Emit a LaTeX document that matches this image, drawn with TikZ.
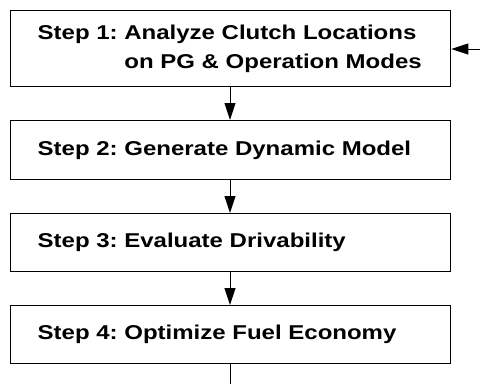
\documentclass[tikz,border=0pt]{standalone}
\usepackage{fontspec}
\setmainfont[FakeStretch=1.2]{Liberation Sans}
\usetikzlibrary{arrows.meta}
\begin{document}
\frenchspacing
\begin{tikzpicture}[x=1pt,y=-1pt,
  stepbox/.style={draw, line width=1.4pt, minimum width=440pt, inner xsep=27pt, text width=386pt, align=left, font=\bfseries\fontsize{20}{29.5}\selectfont, anchor=north west},
  conn/.style={line width=1pt, -{Triangle[length=17pt,width=11pt]}}]
\useasboundingbox (0,0) rectangle (480,384);
\node[stepbox, minimum height=76pt] (s1) at (10,10) {Step 1: Analyze Clutch Locations\\\phantom{Step 1:} on PG \& Operation Modes};
\node[stepbox, minimum height=59pt] (s2) at (10,120) {Step 2: Generate Dynamic Model};
\node[stepbox, minimum height=58pt] (s3) at (10,213) {Step 3: Evaluate Drivability};
\node[stepbox, minimum height=58pt] (s4) at (10,305) {Step 4: Optimize Fuel Economy};
\coordinate (in) at (480,49);
\coordinate (out) at (230,384);
\draw[conn] (s1.south -| 230,0) -- (s2.north -| 230,0);
\draw[conn] (s2.south -| 230,0) -- (s3.north -| 230,0);
\draw[conn] (s3.south -| 230,0) -- (s4.north -| 230,0);
\draw[line width=1pt] (s4.south -| out) -- (out);
\draw[conn] (in) -- (in -| s1.east);
\end{tikzpicture}
\end{document}
